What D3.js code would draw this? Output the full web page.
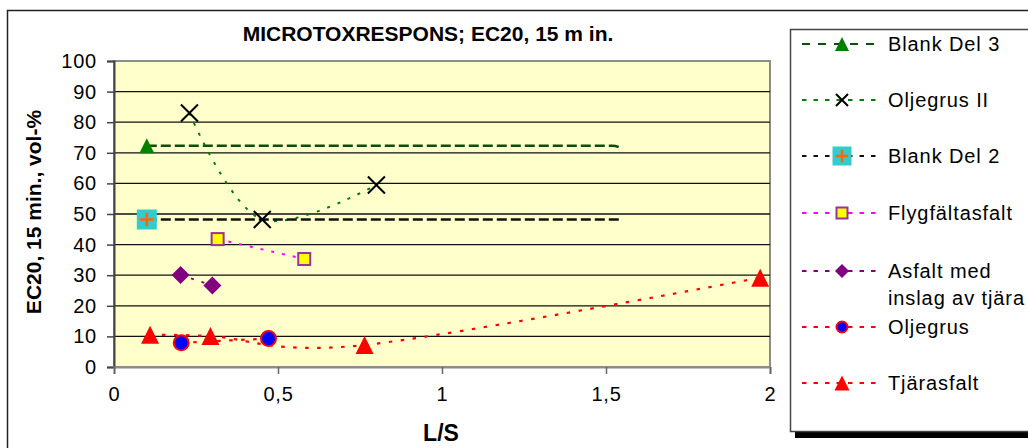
<!DOCTYPE html>
<html>
<head>
<meta charset="utf-8">
<script src="https://cdn.jsdelivr.net/npm/d3@7"></script>
<style>
  html, body {
    margin: 0;
    background: #fff;
    font-family: "Liberation Sans", Arial, sans-serif;
  }
  svg {
    display: block;
  }
</style>
</head>
<body>
<div id="chart"></div>
<script>
  // values (x = L/S, y = EC20 vol-%)
  const seriesNames = [
    "Blank Del 3",
    "Oljegrus II",
    "Blank Del 2",
    "Flygfältasfalt",
    "Asfalt med inslag av tjära",
    "Oljegrus",
    "Tjärasfalt"
  ];
  const blankDel3LS = [0.1, 1.52, 1.55];
  const blankDel3EC = [72.3, 72.3, 71.4];
  const blankDel3Marked = [true, false, false];
  const oljegrusIILS = [0.23, 0.452, 0.8];
  const oljegrusIIEC = [83, 48.2, 59.5];
  const blankDel2LS = [0.1, 1.55];
  const blankDel2EC = [48.2, 48.2];
  const blankDel2Marked = [true, false];
  const flygLS = [0.316, 0.58];
  const flygEC = [41.8, 35.3];
  const asfaltLS = [0.203, 0.3];
  const asfaltEC = [30.1, 26.6];
  const oljegrusLS = [0.205, 0.471];
  const oljegrusEC = [7.9, 9.3];
  const tjaraLS = [0.11, 0.294, 0.764, 1.97];
  const tjaraEC = [10.5, 10.1, 7.2, 29.2];

  const yTicks = [0, 10, 20, 30, 40, 50, 60, 70, 80, 90, 100];
  const xTicks = [0, 0.5, 1, 1.5, 2];
  const xTickLabels = ["0", "0,5", "1", "1,5", "2"];

  const width = 1028,
    height = 448;
  const plot = { left: 114, right: 770, top: 61, bottom: 367 };

  const x = d3.scaleLinear().domain([0, 2]).range([plot.left, plot.right]);
  const y = d3.scaleLinear().domain([0, 100]).range([plot.bottom, plot.top]);

  const svg = d3
    .select("#chart")
    .append("svg")
    .attr("width", width)
    .attr("height", height);

  // chart area border (runs off the right and bottom edge)
  svg
    .append("rect")
    .attr("x", 7.5)
    .attr("y", 10.5)
    .attr("width", 1040)
    .attr("height", 460)
    .attr("fill", "#fff")
    .attr("stroke", "#222")
    .attr("stroke-width", 1.5);

  svg
    .append("rect")
    .attr("x", plot.left)
    .attr("y", plot.top)
    .attr("width", plot.right - plot.left)
    .attr("height", plot.bottom - plot.top)
    .attr("fill", "#ffffcc")
    .attr("stroke", "#8c8c8c")
    .attr("stroke-width", 2);

  // gridlines
  svg
    .append("g")
    .selectAll("line")
    .data(yTicks.filter(d => d > 0 && d < 100))
    .join("line")
    .attr("x1", plot.left)
    .attr("x2", plot.right)
    .attr("y1", d => y(d))
    .attr("y2", d => y(d))
    .attr("stroke", "#111")
    .attr("stroke-width", 1.3);

  // axes
  const yAxis = svg
    .append("g")
    .attr("transform", `translate(${plot.left},0)`)
    .call(
      d3.axisLeft(y).tickValues(yTicks).tickSize(7).tickPadding(10).tickFormat(d3.format("d"))
    );
  const xAxis = svg
    .append("g")
    .attr("transform", `translate(0,${plot.bottom})`)
    .call(
      d3
        .axisBottom(x)
        .tickValues(xTicks)
        .tickSize(7)
        .tickPadding(13)
        .tickFormat((d, i) => xTickLabels[i])
    );
  yAxis.select(".domain").attr("stroke", "#444").attr("stroke-width", 2);
  xAxis.select(".domain").attr("stroke", "#8c8c8c").attr("stroke-width", 2);
  yAxis.selectAll(".tick line").attr("stroke", "#444").attr("stroke-width", 1.5);
  xAxis.selectAll(".tick line").attr("stroke", "#666").attr("stroke-width", 1.5);
  svg
    .selectAll(".tick text")
    .attr("font-family", "Liberation Sans, Arial, sans-serif")
    .attr("font-size", 20)
    .attr("letter-spacing", 0.8)
    .attr("fill", "#000");

  // titles
  svg
    .append("text")
    .attr("x", 428)
    .attr("y", 41)
    .attr("text-anchor", "middle")
    .attr("font-size", 21)
    .attr("font-weight", "bold")
    .text("MICROTOXRESPONS; EC20, 15 m in.");
  svg
    .append("text")
    .attr("transform", "translate(41,212) rotate(-90)")
    .attr("text-anchor", "middle")
    .attr("font-size", 21)
    .attr("font-weight", "bold")
    .text("EC20, 15 min., vol-%");
  svg
    .append("text")
    .attr("x", 441)
    .attr("y", 441)
    .attr("text-anchor", "middle")
    .attr("font-size", 23)
    .attr("font-weight", "bold")
    .text("L/S");

  // marker painters, s = box size
  const markers = {
    greenTriangle: (g, s) =>
      g.append("path").attr("d", `M0,${-s / 2}L${s / 2},${s / 2}L${-s / 2},${s / 2}Z`).attr("fill", "#008000"),
    cross: (g, s) =>
      g
        .append("path")
        .attr("d", `M${-s / 2},${-s / 2}L${s / 2},${s / 2}M${s / 2},${-s / 2}L${-s / 2},${s / 2}`)
        .attr("stroke", "#000")
        .attr("stroke-width", 2)
        .attr("fill", "none"),
    cyanPlus: (g, s) => {
      g.append("rect").attr("x", -s / 2).attr("y", -s / 2).attr("width", s).attr("height", s).attr("fill", "#33cccc");
      g.append("path")
        .attr("d", `M${-s / 3},0H${s / 3}M0,${-s / 3}V${s / 3}`)
        .attr("stroke", "#ff6600")
        .attr("stroke-width", 2.5);
    },
    yellowSquare: (g, s) =>
      g
        .append("rect")
        .attr("x", -s / 2 + 1)
        .attr("y", -s / 2 + 1)
        .attr("width", s - 2)
        .attr("height", s - 2)
        .attr("fill", "#ffff00")
        .attr("stroke", "#993399")
        .attr("stroke-width", 2),
    diamond: (g, s) =>
      g.append("path").attr("d", `M0,${-s / 2}L${s / 2},0L0,${s / 2}L${-s / 2},0Z`).attr("fill", "#800080"),
    blueCircle: (g, s) =>
      g
        .append("circle")
        .attr("r", s / 2 - 1)
        .attr("fill", "#0000ff")
        .attr("stroke", "#ff0000")
        .attr("stroke-width", 2),
    redTriangle: (g, s) =>
      g.append("path").attr("d", `M0,${-s / 2}L${s / 2},${s / 2}L${-s / 2},${s / 2}Z`).attr("fill", "#ff0000")
  };

  const smooth = d3.curveCatmullRom.alpha(0.5);
  const series = [
    { xs: blankDel3LS, ys: blankDel3EC, marked: blankDel3Marked, color: "#0b4f0b", dash: "10,4", w: 2.5, marker: "greenTriangle", size: 15, legendSize: 14, curve: d3.curveMonotoneX },
    { xs: oljegrusIILS, ys: oljegrusIIEC, color: "#008000", dash: "3,8", w: 2, marker: "cross", size: 17, legendSize: 12, curve: smooth },
    { xs: blankDel2LS, ys: blankDel2EC, marked: blankDel2Marked, color: "#111", dash: "10,4", w: 2.5, marker: "cyanPlus", size: 20, legendSize: 19, curve: d3.curveLinear },
    { xs: flygLS, ys: flygEC, color: "#ff00ff", dash: "3,8", w: 2, marker: "yellowSquare", size: 14, legendSize: 13, curve: smooth },
    { xs: asfaltLS, ys: asfaltEC, color: "#800080", dash: "3,8", w: 2, marker: "diamond", size: 18, legendSize: 14, curve: smooth },
    { xs: oljegrusLS, ys: oljegrusEC, color: "#ff0000", dash: "3.5,8.5", w: 2.2, marker: "blueCircle", size: 17, legendSize: 13, curve: smooth },
    { xs: tjaraLS, ys: tjaraEC, color: "#ff0000", dash: "3.5,8.5", w: 2.2, marker: "redTriangle", size: 18, legendSize: 15, curve: d3.curveCatmullRom.alpha(0) }
  ];

  const lines = svg.append("g");
  series.forEach(s => {
    const line = d3
      .line()
      .x(d => x(d[0]))
      .y(d => y(d[1]))
      .curve(s.curve);
    lines
      .append("path")
      .attr("d", line(d3.zip(s.xs, s.ys)))
      .attr("fill", "none")
      .attr("stroke", s.color)
      .attr("stroke-width", s.w)
      .attr("stroke-dasharray", s.dash);
  });

  const points = svg.append("g");
  series.forEach(s => {
    d3.zip(s.xs, s.ys).forEach((p, i) => {
      if (s.marked && !s.marked[i]) return;
      const g = points.append("g").attr("transform", `translate(${x(p[0])},${y(p[1])})`);
      markers[s.marker](g, s.size);
    });
  });

  // legend
  const legend = svg.append("g");
  legend
    .append("rect")
    .attr("x", 795)
    .attr("y", 34)
    .attr("width", 260)
    .attr("height", 404)
    .attr("fill", "#000");
  legend
    .append("rect")
    .attr("x", 790.5)
    .attr("y", 29.5)
    .attr("width", 260)
    .attr("height", 402)
    .attr("fill", "#fff")
    .attr("stroke", "#444")
    .attr("stroke-width", 1.5);

  const legendRows = [44, 100, 156, 213, 271, 327, 383];
  series.forEach((s, i) => {
    const cy = legendRows[i];
    legend
      .append("line")
      .attr("x1", 802)
      .attr("x2", 880)
      .attr("y1", cy)
      .attr("y2", cy)
      .attr("stroke", s.color)
      .attr("stroke-width", 2)
      .attr("stroke-dasharray", i === 0 ? "8,8" : "4.5,7");
    const g = legend.append("g").attr("transform", `translate(842,${cy})`);
    markers[s.marker](g, s.legendSize);

    const label = legend
      .append("text")
      .attr("x", 888)
      .attr("y", cy + 7)
      .attr("font-size", 20)
      .attr("letter-spacing", 0.9);
    if (i === 4) {
      label.append("tspan").attr("x", 888).text("Asfalt med");
      label.append("tspan").attr("x", 888).attr("dy", 27).text("inslag av tjära");
    } else {
      label.text(seriesNames[i]);
    }
  });
</script>
</body>
</html>
